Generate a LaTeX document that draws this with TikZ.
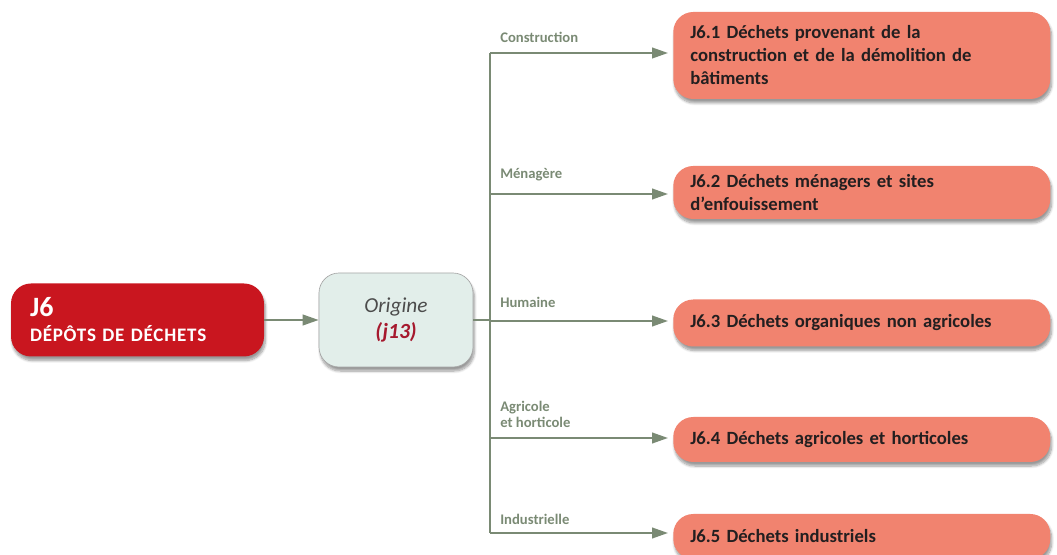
\documentclass[tikz,border=0pt]{standalone}
\usepackage{fontspec}
\setmainfont{Carlito}
\usetikzlibrary{arrows.meta,shadows.blur}
\definecolor{WRed}{RGB}{201,22,31}
\definecolor{WSalmon}{RGB}{241,131,111}
\definecolor{WGreen}{RGB}{122,138,116}
\definecolor{WMint}{RGB}{226,238,234}
\definecolor{WInk}{RGB}{35,31,32}
\definecolor{WWine}{RGB}{166,25,46}
\tikzset{
  softshadow/.style={blur shadow={shadow xshift=1pt,shadow yshift=-3pt,shadow blur steps=8,shadow opacity=40}},
  catbox/.style={rectangle,rounded corners=15pt,fill=WSalmon,softshadow,anchor=west,
    text width=257.25pt,inner xsep=12.75pt,inner ysep=0pt,align=left,text=WInk,
    font=\bfseries\fontsize{14}{17.25}\selectfont},
  branchlabel/.style={anchor=west,inner sep=0pt,align=left,text=WGreen,
    font=\bfseries\fontsize{11}{11.5}\selectfont},
  conn/.style={draw=WGreen,line width=1.5pt},
  arr/.style={conn,-{Triangle[length=12pt,width=8pt]}},
}

\begin{document}
\begin{tikzpicture}[x=0.75pt,y=-0.75pt]
      \useasboundingbox (0,0) rectangle (1057,555);
      \node[rectangle,rounded corners=15pt,fill=WRed,softshadow,minimum width=189.75pt,minimum height=54.75pt,
        text width=161.25pt,inner xsep=14.25pt,align=left,text=white,font=\bfseries\fontsize{14.3}{18.75}\selectfont]
        (j6) at (137.5,320) {{\fontsize{21}{18.75}\selectfont J6}\\{\addfontfeature{LetterSpace=4}DÉPÔTS DE DÉCHETS}};
      \node[rectangle,rounded corners=15pt,fill=WMint,draw=black!35,line width=.5pt,softshadow,minimum width=115.5pt,minimum height=70.5pt,
        align=center,text=black!70,font=\fontsize{16}{19.5}\selectfont]
        (orig) at (396,320) {\itshape Origine\\{\bfseries\itshape\fontsize{16.2}{19.5}\selectfont\color{WWine}(j13)}};
      \node[catbox,minimum height=65.25pt] (c1) at (673,55.5) {J6.1 Déchets provenant de la\\construction et de la démolition de\\bâtiments};
      \node[catbox,minimum height=39.75pt] (c2) at (673,192.5) {J6.2 Déchets ménagers et sites\\{d\textquoteright enfouissement}};
      \node[catbox,minimum height=35.25pt] (c3) at (673,323) {J6.3 Déchets organiques non agricoles};
      \node[catbox,minimum height=33.75pt] (c4) at (673,439.5) {J6.4 Déchets agricoles et horticoles};
      \node[catbox,minimum height=33.75pt] (c5) at (673,536.5) {J6.5 Déchets industriels};
      \coordinate (s1) at (490,53);
      \coordinate (s2) at (490,194);
      \coordinate (s3) at (490,321);
      \coordinate (s4) at (490,438);
      \coordinate (s5) at (490,533);
      \node[branchlabel] (l1) at (500,37) {Construction};
      \node[branchlabel] (l2) at (500,175) {Ménagère};
      \node[branchlabel] (l3) at (500,302) {Humaine};
      \node[branchlabel] (l4) at (500,414.5) {Agricole\\et horticole};
      \node[branchlabel] (l5) at (500,519) {Industrielle};
      \draw[arr] (j6.east) -- (orig.west);
      \draw[conn] (orig.east) -- (orig.east -| s3);
      \draw[conn] (s1) -- (s5);
      \draw[arr,shorten >=3.75pt] (s1) -- (s1 -| c1.west);
      \draw[arr,shorten >=3.75pt] (s2) -- (s2 -| c2.west);
      \draw[arr,shorten >=3.75pt] (s3) -- (s3 -| c3.west);
      \draw[arr,shorten >=3.75pt] (s4) -- (s4 -| c4.west);
      \draw[arr,shorten >=3.75pt] (s5) -- (s5 -| c5.west);
    \end{tikzpicture}
\end{document}
